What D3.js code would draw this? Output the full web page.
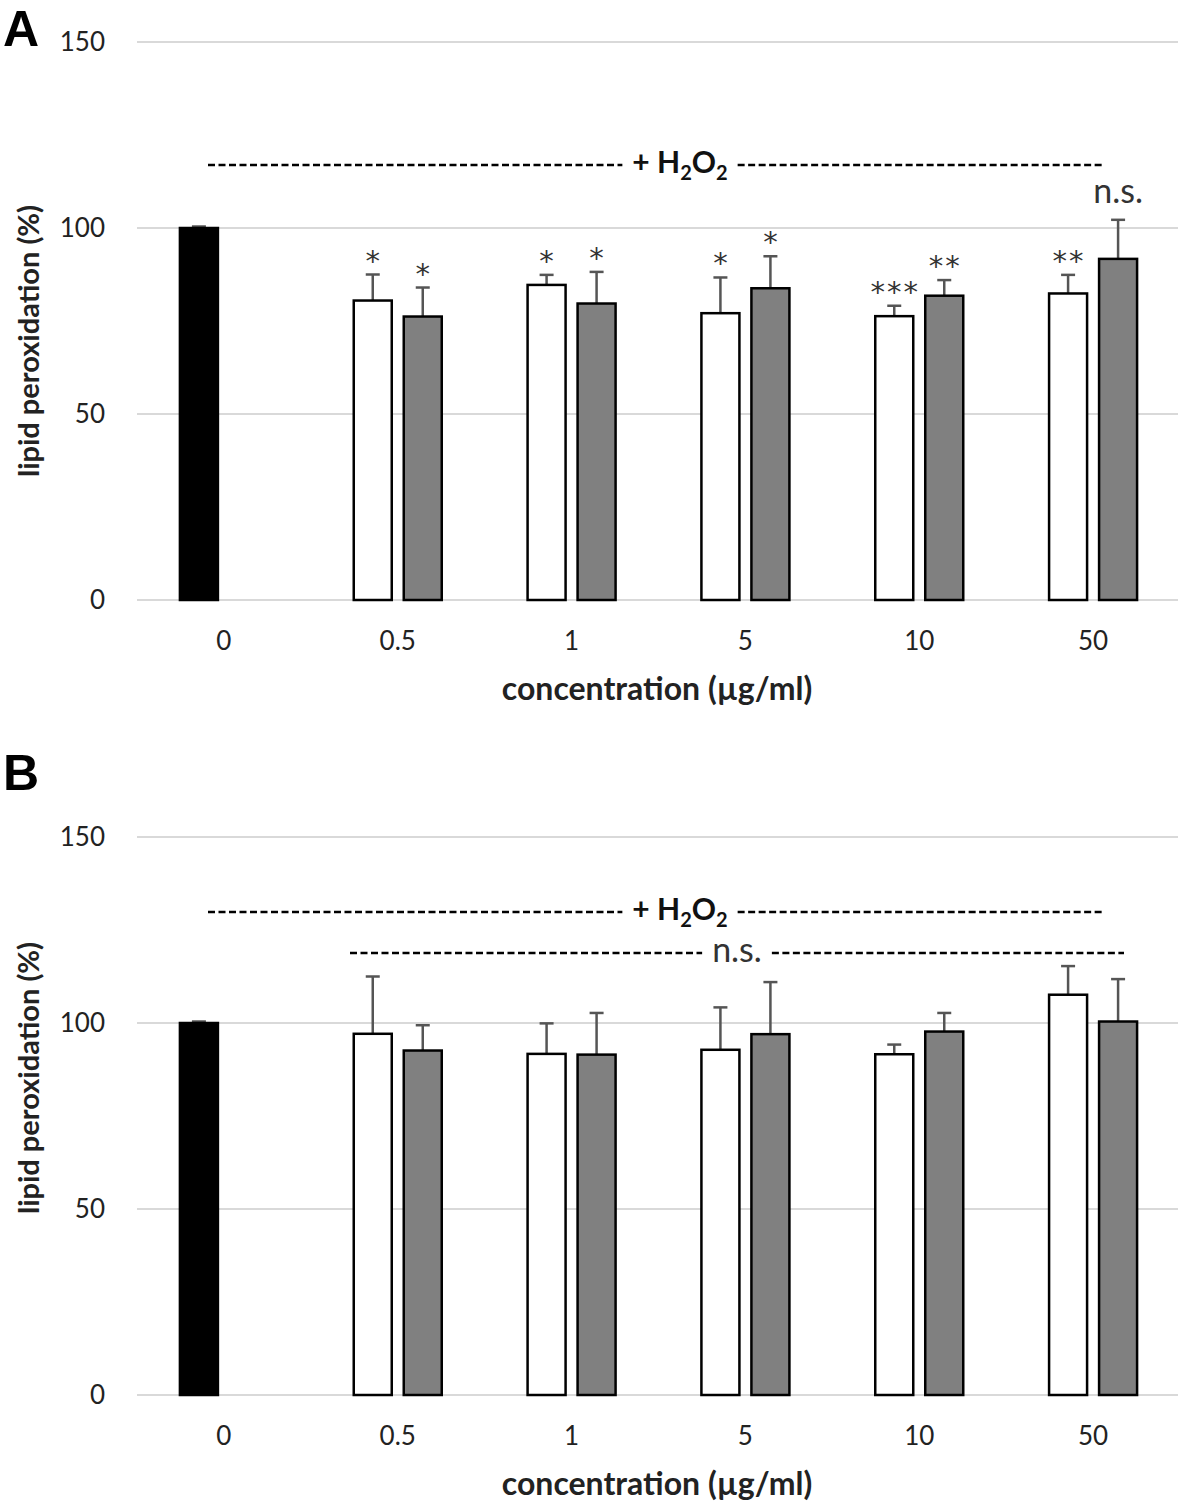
<!DOCTYPE html>
<html>
<head>
<meta charset="utf-8">
<title>lipid peroxidation</title>
<script src="https://d3js.org/d3.v7.min.js"></script>
<style>
body { margin: 0; background: #fff; }
svg { display: block; font-family: Lato, 'Open Sans', sans-serif; }
.grid line { stroke: #d9d9d9; stroke-width: 2; }
.tick-lab { font-size: 26px; fill: #222; }
.ax-title { font-size: 32px; font-weight: bold; fill: #222; }
.y-title { font-size: 29px; font-weight: bold; fill: #222; }
.err { stroke: #555; stroke-width: 2.5; }
.sig { font-family: 'DejaVu Sans', sans-serif; font-size: 29px; fill: #333; }
.ns { font-size: 34px; fill: #333; }
.dash { stroke: #000; stroke-width: 2.5; stroke-dasharray: 7,3.5; }
.h2o2 { font-size: 30px; font-weight: bold; fill: #111; }
.panel { font-family: 'Liberation Sans', Arial, sans-serif; font-size: 50px; font-weight: bold; }
</style>
</head>
<body>
<svg width="1181" height="1507"></svg>
<script>

// categories (concentration, µg/ml)
var categories = ["0", "0.5", "1", "5", "10", "50"];
var yTicks = [0, 50, 100, 150];

// control (H2O2 only)
var control = 100;
var controlErr = 0.4;

// panel A
var whiteA    = [null, 80.5, 84.7, 77.1, 76.3, 82.4];
var whiteErrA = [null, 7.0, 2.7, 9.6, 2.8, 5.0];
var greyA     = [null, 76.2, 79.7, 83.8, 81.8, 91.7];
var greyErrA  = [null, 7.8, 8.5, 8.6, 4.2, 10.5];
var sigWhiteA = ["", "*", "*", "*", "***", "**"];
var sigGreyA  = ["", "*", "*", "*", "**", "n.s."];

// panel B
var whiteB    = [null, 97.1, 91.7, 92.8, 91.6, 107.6];
var whiteErrB = [null, 15.4, 8.2, 11.4, 2.6, 7.7];
var greyB     = [null, 92.6, 91.5, 97.0, 97.7, 100.4];
var greyErrB  = [null, 6.8, 11.2, 14.0, 5.0, 11.4];

var svg = d3.select("svg");

var x = d3.scaleBand().domain(categories).range([137, 1180]);
var sub = d3.scaleBand().domain(["w", "g"]).range([-45, 45]).paddingInner(0.2);

function dashedLabel(g, y, x0, x1, cx, baseline, cls, build) {
  var t = g.append("text").attr("class", cls).attr("x", cx).attr("y", baseline)
    .attr("text-anchor", "middle");
  build(t);
  var bb = t.node().getBBox();
  g.append("line").attr("class", "dash").attr("x1", x0).attr("x2", bb.x - 10)
    .attr("y1", y).attr("y2", y);
  g.append("line").attr("class", "dash").attr("x1", bb.x + bb.width + 10).attr("x2", x1)
    .attr("y1", y).attr("y2", y);
}

function h2o2(t) {
  t.append("tspan").text("+ H");
  t.append("tspan").attr("font-size", "20px").attr("dy", 7).text("2");
  t.append("tspan").attr("dy", -7).text("O");
  t.append("tspan").attr("font-size", "20px").attr("dy", 7).text("2");
}

function drawPanel(o) {
  var g = svg.append("g");
  var y = d3.scaleLinear().domain([0, 150]).range([o.y0, o.y0 - 558]);

  // gridlines
  g.append("g").attr("class", "grid").selectAll("line").data(yTicks).enter()
    .append("line").attr("x1", 137).attr("x2", 1178)
    .attr("y1", function (d) { return y(d); }).attr("y2", function (d) { return y(d); });

  // y tick labels
  g.selectAll("text.ylab").data(yTicks).enter().append("text")
    .attr("class", "tick-lab ylab").attr("x", 105).attr("y", function (d) { return y(d); })
    .attr("dy", "0.35em").attr("text-anchor", "end").text(function (d) { return d; });

  // x tick labels
  g.selectAll("text.xlab").data(categories).enter().append("text")
    .attr("class", "tick-lab xlab").attr("text-anchor", "middle")
    .attr("x", function (d) { return x(d) + x.bandwidth() / 2; })
    .attr("y", o.y0 + 50).text(function (d) { return d; });

  g.append("text").attr("class", "ax-title").attr("text-anchor", "middle")
    .attr("x", 657).attr("y", o.y0 + 100).text("concentration (µg/ml)");

  g.append("text").attr("class", "y-title").attr("text-anchor", "middle")
    .attr("transform", "translate(39," + o.titleY + ") rotate(-90)")
    .text("lipid peroxidation (%)");

  g.append("text").attr("class", "panel").attr("x", 3).attr("y", o.letterY).text(o.letter);

  // bars: control, white, grey
  var bars = [{cat: "0", slot: "w", v: control, e: controlErr, fill: "#000", sig: ""}];
  categories.forEach(function (c, i) {
    if (o.white[i] == null) return;
    bars.push({cat: c, slot: "w", v: o.white[i], e: o.whiteErr[i], fill: "#fff", sig: o.sigW ? o.sigW[i] : ""});
    bars.push({cat: c, slot: "g", v: o.grey[i], e: o.greyErr[i], fill: "#808080", sig: o.sigG ? o.sigG[i] : ""});
  });

  function cx(d) { return x(d.cat) + x.bandwidth() / 2 + sub(d.slot) + sub.bandwidth() / 2; }

  g.selectAll("line.eb").data(bars).enter().append("line").attr("class", "err eb")
    .attr("x1", cx).attr("x2", cx)
    .attr("y1", function (d) { return y(d.v); }).attr("y2", function (d) { return y(d.v + d.e); });
  g.selectAll("line.cap").data(bars).enter().append("line").attr("class", "err cap")
    .attr("x1", function (d) { return cx(d) - 7; }).attr("x2", function (d) { return cx(d) + 7; })
    .attr("y1", function (d) { return y(d.v + d.e); }).attr("y2", function (d) { return y(d.v + d.e); });

  g.selectAll("rect.bar").data(bars).enter().append("rect").attr("class", "bar")
    .attr("x", function (d) { return cx(d) - sub.bandwidth() / 2 + 1; })
    .attr("width", sub.bandwidth() - 2)
    .attr("y", function (d) { return y(d.v); })
    .attr("height", function (d) { return y(0) - y(d.v); })
    .attr("fill", function (d) { return d.fill; })
    .attr("stroke", "#000").attr("stroke-width", 2.5);

  // significance marks
  g.selectAll("text.s").data(bars.filter(function (d) { return d.sig; })).enter().append("text")
    .attr("class", function (d) { return d.sig == "n.s." ? "ns s" : "sig s"; })
    .attr("text-anchor", "middle")
    .attr("letter-spacing", function (d) { return d.sig == "n.s." ? 0 : 2; })
    .attr("x", function (d) { return cx(d) + (d.sig == "n.s." ? 0 : 1); })
    .attr("y", function (d) { return y(d.v + d.e) - (d.sig == "n.s." ? 17 : 4); })
    .text(function (d) { return d.sig; });

  dashedLabel(g, o.h2y, 208, 1103, 680, o.h2y + 8, "h2o2", h2o2);
  if (o.nsLine) {
    dashedLabel(g, o.nsY, 350, 1124, 737, o.nsY + 9, "ns", function (t) { t.text("n.s."); });
  }
}

drawPanel({y0: 600, white: whiteA, whiteErr: whiteErrA, grey: greyA, greyErr: greyErrA,
  sigW: sigWhiteA, sigG: sigGreyA, letter: "A", letterY: 46, titleY: 341, h2y: 165});
drawPanel({y0: 1395, white: whiteB, whiteErr: whiteErrB, grey: greyB, greyErr: greyErrB,
  letter: "B", letterY: 790, titleY: 1078, h2y: 912, nsLine: true, nsY: 953});

</script>
</body>
</html>
